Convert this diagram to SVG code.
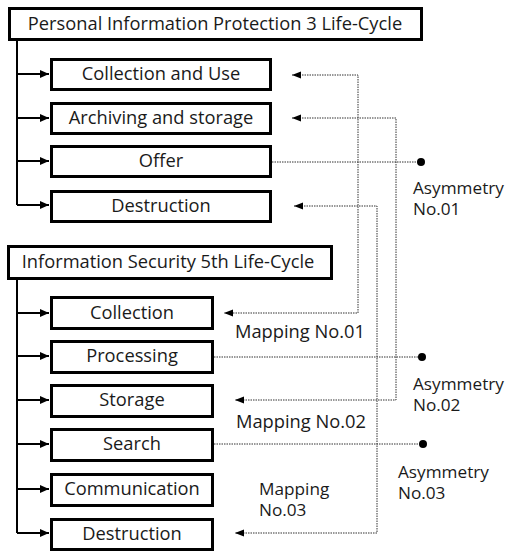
<svg xmlns="http://www.w3.org/2000/svg" width="507" height="551" viewBox="0 0 507 551">
<defs>
<style>
.box{fill:#fff;stroke:#000;stroke-width:3}
.trunk{fill:none;stroke:#000;stroke-width:2}
.dot{fill:none;stroke:#333;stroke-width:1;stroke-dasharray:1.5,1}
.t{font-family:"Open Sans","Noto Sans",sans-serif;font-size:18.3px;fill:#1a1a1a}
.s{font-size:17.2px}
.c{text-anchor:middle}
</style>
<marker id="ah" markerWidth="10" markerHeight="8" refX="9" refY="4" orient="auto" markerUnits="userSpaceOnUse">
<path d="M0,0 L9,4 L0,8 Z" fill="#000"/>
</marker>
<marker id="dh" markerWidth="10" markerHeight="8" refX="9" refY="3.5" orient="auto-start-reverse" markerUnits="userSpaceOnUse">
<path d="M0,0 L9,3.5 L0,7 Z" fill="#000"/>
</marker>
</defs>
<g id="connectors">
<path class="trunk" d="M17,41 V205"/>
<path class="trunk" d="M17,74 H49" marker-end="url(#ah)"/>
<path class="trunk" d="M17,118 H49" marker-end="url(#ah)"/>
<path class="trunk" d="M17,161 H49" marker-end="url(#ah)"/>
<path class="trunk" d="M17,205 H49" marker-end="url(#ah)"/>
<path class="trunk" d="M17,280 V533"/>
<path class="trunk" d="M17,313 H49" marker-end="url(#ah)"/>
<path class="trunk" d="M17,356 H49" marker-end="url(#ah)"/>
<path class="trunk" d="M17,400 H49" marker-end="url(#ah)"/>
<path class="trunk" d="M17,444 H49" marker-end="url(#ah)"/>
<path class="trunk" d="M17,489 H49" marker-end="url(#ah)"/>
<path class="trunk" d="M17,533 H49" marker-end="url(#ah)"/>
<path class="dot" d="M292,75 H358 V313 H224" marker-start="url(#dh)" marker-end="url(#dh)"/>
<path class="dot" d="M292,118 H396 V400 H235" marker-start="url(#dh)" marker-end="url(#dh)"/>
<path class="dot" d="M294,206 H377 V533 H235" marker-start="url(#dh)" marker-end="url(#dh)"/>
<path class="dot" d="M272,162 H421"/>
<circle cx="421" cy="162" r="4" fill="#000"/>
<path class="dot" d="M214,357 H422"/>
<circle cx="422" cy="357" r="4" fill="#000"/>
<path class="dot" d="M214,444 H423"/>
<circle cx="423" cy="444" r="4" fill="#000"/>
</g>
<g id="pip-header"><rect class="box" x="9.5" y="8.5" width="412" height="31"/><text class="t c" x="215" y="30">Personal Information Protection 3 Life-Cycle</text></g>
<g id="pip-collection"><rect class="box" x="51.5" y="59.5" width="219" height="30"/><text class="t c" x="161" y="80">Collection and Use</text></g>
<g id="pip-archiving"><rect class="box" x="51.5" y="103.5" width="219" height="30"/><text class="t c" x="161" y="124">Archiving and storage</text></g>
<g id="pip-offer"><rect class="box" x="51.5" y="146.5" width="219" height="30"/><text class="t c" x="161" y="167">Offer</text></g>
<g id="pip-destruction"><rect class="box" x="51.5" y="191.5" width="219" height="30"/><text class="t c" x="161" y="212">Destruction</text></g>
<g id="is-header"><rect class="box" x="8.5" y="246.5" width="323" height="32"/><text class="t c" x="168" y="268">Information Security 5th Life-Cycle</text></g>
<g id="is-collection"><rect class="box" x="51.5" y="297.5" width="161" height="31"/><text class="t c" x="132" y="319">Collection</text></g>
<g id="is-processing"><rect class="box" x="51.5" y="341.5" width="161" height="31"/><text class="t c" x="132" y="362">Processing</text></g>
<g id="is-storage"><rect class="box" x="51.5" y="385.5" width="161" height="31"/><text class="t c" x="132" y="406">Storage</text></g>
<g id="is-search"><rect class="box" x="51.5" y="429.5" width="161" height="31"/><text class="t c" x="132" y="450">Search</text></g>
<g id="is-communication"><rect class="box" x="51.5" y="474.5" width="161" height="31"/><text class="t c" x="132" y="495">Communication</text></g>
<g id="is-destruction"><rect class="box" x="51.5" y="519.5" width="161" height="30"/><text class="t c" x="132" y="540">Destruction</text></g>
<g id="labels">
<text class="t s" x="413" y="194">Asymmetry<tspan x="413" y="215">No.01</tspan></text>
<text class="t" x="235" y="338">Mapping No.01</text>
<text class="t s" x="413" y="390">Asymmetry<tspan x="413" y="411">No.02</tspan></text>
<text class="t" x="236" y="428">Mapping No.02</text>
<text class="t s" x="398" y="478">Asymmetry<tspan x="398" y="499">No.03</tspan></text>
<text class="t s" x="259" y="495">Mapping<tspan x="259" y="516">No.03</tspan></text>
</g>
</svg>
